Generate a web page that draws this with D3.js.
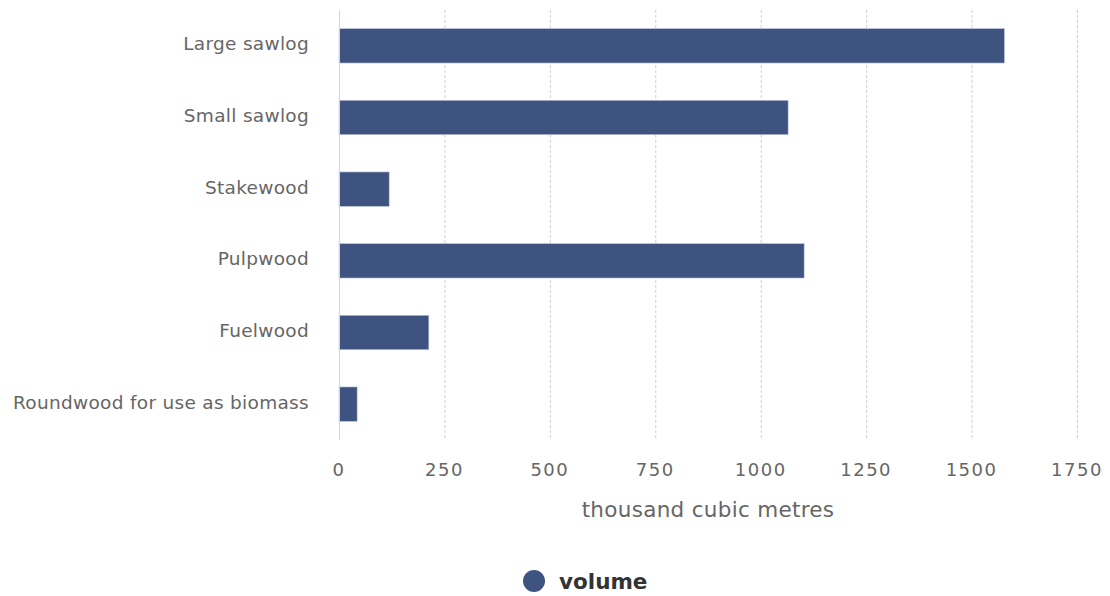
<!DOCTYPE html>
<html><head><meta charset="utf-8">
<script src="https://cdn.jsdelivr.net/npm/d3@7"></script>
<style>body{margin:0;background:#fff}svg{display:block}text{font-family:"DejaVu Sans",sans-serif}</style>
</head><body><svg id="c" width="1110" height="596"></svg>
<script>
const categories = ["Large sawlog","Small sawlog","Stakewood","Pulpwood","Fuelwood","Roundwood for use as biomass"];
const volume = [1578, 1065, 119, 1103, 213, 43];
const xTicks = [0,250,500,750,1000,1250,1500,1750];
const seriesName = "volume";
const axisTitle = "thousand cubic metres";

(function(){
const svg = d3.select("#c");
const pl = 339, pr = 1077, pt = 10, pb = 440;
const x = d3.scaleLinear().domain([0,1750]).range([pl,pr]);
const y = d3.scaleBand().domain(categories).range([pt,pb]).paddingInner(0.52).paddingOuter(0.26);
const color = "#3f5380";

svg.append("g").selectAll("line").data(xTicks.slice(1)).join("line")
  .attr("x1", d=>x(d)+0.5).attr("x2", d=>x(d)+0.5).attr("y1", pt).attr("y2", pb)
  .attr("stroke","#d0d0d0").attr("stroke-dasharray","3,2").attr("stroke-width",1);

svg.append("g").selectAll("rect").data(volume).join("rect")
  .attr("x", x(0)).attr("y", (d,i)=>y(categories[i]))
  .attr("width", d=>x(d)-x(0)).attr("height", y.bandwidth())
  .attr("fill", color).attr("stroke","#b9c4dc").attr("stroke-width",0.6);

svg.append("line").attr("x1",pl+0.5).attr("x2",pl+0.5).attr("y1",pt).attr("y2",pb)
  .attr("stroke","#ccd6eb").attr("stroke-width",1);

svg.append("g").selectAll("text").data(categories).join("text")
  .attr("x", 309).attr("y", d=>y(d)+y.bandwidth()/2 - 2).attr("dy","0.35em")
  .attr("text-anchor","end").attr("fill","#666").attr("font-size",18.5)
  .attr("letter-spacing",0.3).text(d=>d);

svg.append("g").selectAll("text").data(xTicks).join("text")
  .attr("x", d=>x(d)).attr("y", 476).attr("text-anchor","middle")
  .attr("fill","#666").attr("font-size",18).attr("letter-spacing",1.5).text(d=>d);

svg.append("text").attr("x",(pl+pr)/2).attr("y",517).attr("text-anchor","middle")
  .attr("fill","#666").attr("font-size",21.5).attr("letter-spacing",0.3).text(axisTitle);

svg.append("circle").attr("cx",534).attr("cy",581).attr("r",11).attr("fill",color);
svg.append("text").attr("x",559).attr("y",589).attr("fill","#333").attr("font-weight","bold")
  .attr("font-size",21.5).text(seriesName);
})();
</script></body></html>
